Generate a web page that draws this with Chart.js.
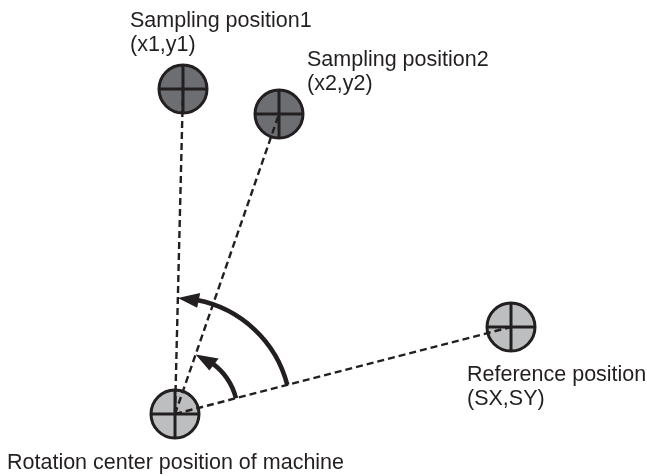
<!DOCTYPE html>
<html><head><meta charset="utf-8">
<script src="https://cdn.jsdelivr.net/npm/chart.js@4.4.1/dist/chart.umd.min.js"></script>
<style>html,body{margin:0;padding:0;background:#fff;}#c{display:block;}</style>
</head><body>
<canvas id="c" width="647" height="476"></canvas>
<script>
// ---- Data (diagram units, rotation centre at origin, y pointing up) ----
const positionNames = ['Sampling position1', 'Sampling position2', 'Rotation center', 'Reference position'];
const posX = [8, 104, 0, 336];
const posY = [325, 300, 0, 87];
const posKind = ['sample', 'sample', 'center', 'reference'];
const centerIdx = 2;
const lineTargets = [0, 1, 3];       // dashed lines from rotation centre
const arcRadii = [116, 63];          // rotation arrows
const arcTargets = [0, 1];           // arrow ends on these sampling positions
const arcFrom = 3;                   // arrows start on reference line
const labelLines = [
  ['Sampling position1', '(x1,y1)'],
  ['Sampling position2', '(x2,y2)'],
  ['Rotation center position of machine'],
  ['Reference position', '(SX,SY)']
];

// ---- Layout / style ----
const labelAt = [{x:130, y:27}, {x:307, y:66}, {x:7, y:469}, {x:467, y:381}]; // canvas px, first baseline
const lineGap = 24;
const ink = '#231f20';
const fillFor = {sample:'#6d6e71', center:'#bcbec0', reference:'#bcbec0'};

const pts = posX.map((x, i) => ({x: x, y: posY[i]}));
const fills = posKind.map(k => fillFor[k]);

const dashedSets = lineTargets.map(t => ({
  data: [pts[centerIdx], pts[t]],
  showLine: true, borderColor: ink, borderWidth: 2.4, borderDash: [7, 4],
  pointRadius: 0, fill: false, order: 0
}));
const crossSet = {
  data: pts, showLine: false, pointStyle: 'cross', pointRadius: 24,
  borderColor: ink, pointBorderColor: ink, pointBorderWidth: 3, order: 1
};
const circleSet = {
  data: pts, showLine: false, pointStyle: 'circle', pointRadius: 24,
  backgroundColor: fills, pointBackgroundColor: fills,
  borderColor: ink, pointBorderColor: ink, pointBorderWidth: 3, order: 2
};

const overlay = {
  id: 'overlay',
  afterDatasetsDraw(chart) {
    const ctx = chart.ctx, sx = chart.scales.x, sy = chart.scales.y;
    const cx = sx.getPixelForValue(posX[centerIdx]);
    const cy = sy.getPixelForValue(posY[centerIdx]);
    const ppu = Math.abs(sx.getPixelForValue(1) - sx.getPixelForValue(0));
    const aFrom = Math.atan2(posY[arcFrom] - posY[centerIdx], posX[arcFrom] - posX[centerIdx]);
    arcRadii.forEach((r, i) => {
      const t = arcTargets[i];
      const aTo = Math.atan2(posY[t] - posY[centerIdx], posX[t] - posX[centerIdx]);
      const R = r * ppu;
      const headLen = 21, headHalf = 7.5;
      const aBase = aTo - headLen / R;
      ctx.save();
      ctx.strokeStyle = ink; ctx.lineWidth = 4.6; ctx.lineCap = 'butt';
      ctx.beginPath();
      ctx.arc(cx, cy, R, -aFrom, -(aBase + 2 / R), true);
      ctx.stroke();
      const tx = cx + R * Math.cos(aTo), ty = cy - R * Math.sin(aTo);
      const bx = cx + R * Math.cos(aBase), by = cy - R * Math.sin(aBase);
      const ux = Math.cos(aBase), uy = -Math.sin(aBase);
      ctx.fillStyle = ink;
      ctx.beginPath();
      ctx.moveTo(tx, ty);
      ctx.lineTo(bx + ux * headHalf, by + uy * headHalf);
      ctx.lineTo(bx - ux * headHalf, by - uy * headHalf);
      ctx.closePath();
      ctx.fill();
      ctx.restore();
    });
    ctx.save();
    ctx.fillStyle = ink;
    ctx.font = '21.5px "Liberation Sans", Arial, sans-serif';
    ctx.textBaseline = 'alphabetic';
    ctx.textAlign = 'left';
    labelLines.forEach((lines, i) => {
      lines.forEach((s, j) => ctx.fillText(s, labelAt[i].x, labelAt[i].y + j * lineGap));
    });
    ctx.restore();
  }
};

new Chart(document.getElementById('c'), {
  type: 'scatter',
  data: { datasets: [...dashedSets, crossSet, circleSet] },
  options: {
    responsive: false, animation: false, devicePixelRatio: 1, events: [],
    layout: { padding: 0, autoPadding: false },
    plugins: { legend: { display: false }, tooltip: { enabled: false } },
    scales: {
      x: { type: 'linear', min: -175, max: 472, display: false },
      y: { type: 'linear', min: -62, max: 414, display: false }
    }
  },
  plugins: [overlay]
});
</script>
</body></html>
